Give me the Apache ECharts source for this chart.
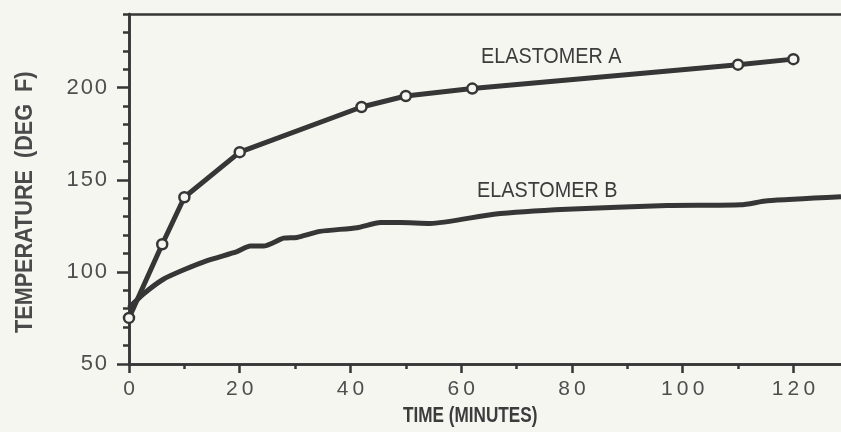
<!DOCTYPE html>
<html>
<head>
<meta charset="utf-8">
<script src="https://cdn.jsdelivr.net/npm/echarts@6/dist/echarts.min.js"></script>
<style>
html,body{margin:0;padding:0;background:#f6f6f1;}
#c{width:841px;height:432px;}
</style>
</head>
<body>
<div id="c"></div>
<script>
// Elastomer A (marked points)
var timeA = [0, 6, 10, 20, 42, 50, 62, 110, 120];
var tempA = [75, 115, 140.5, 165, 189.5, 195.5, 199.5, 212.5, 215.5];
// Elastomer B (continuous trace)
var timeB = [0, 2.6, 6.2, 9.8, 14, 19.5, 21.9, 24.3, 27.9, 30.3, 34.5, 41.2, 45.4, 49, 54.4, 65.9, 79.1, 97.2, 110.5, 115.3, 128.6];
var tempB = [80.5, 88, 96, 101, 106, 111, 114, 114, 118.3, 118.7, 122, 124, 126.8, 126.8, 126.3, 131.3, 134, 136, 136.4, 138.6, 140.8];
// Axis ticks
var xTicks = [0, 20, 40, 60, 80, 100, 120];
var xMinor = [10, 30, 50, 70, 90, 110];
var yTicks = [50, 100, 150, 200];
var yMinor = [60, 70, 80, 90, 110, 120, 130, 140, 160, 170, 180, 190, 210, 220, 230, 240];
var seriesNames = ['ELASTOMER A', 'ELASTOMER B'];
var xTitle = 'TIME (MINUTES)';
var yTitle = 'TEMPERATURE  (DEG  F)';

var ink = '#363636';
var labelGray = '#4e4e4e';
var XMAX = 128.6, YMIN = 50, YMAX = 240;

function pairs(xs, ys){ return xs.map(function(x,i){ return [x, ys[i]]; }); }
function spaced(v){ return String(v).split('').join('\u2009'); }

var chart = echarts.init(document.getElementById('c'), null, {renderer:'canvas'});
chart.setOption({
  backgroundColor: '#f6f6f1',
  animation: false,
  grid: {left: 129, right: 0, top: 14, bottom: 68},
  xAxis: [
    {type:'value', min:0, max:XMAX, position:'bottom',
     axisLine:{show:true, lineStyle:{color:ink, width:2.5}},
     axisTick:{show:true, inside:false, length:5, customValues:xMinor, lineStyle:{color:ink, width:2.5}},
     axisLabel:{show:false}, splitLine:{show:false}},
    {type:'value', min:0, max:XMAX, position:'bottom',
     axisLine:{show:true, lineStyle:{color:ink, width:2.5}},
     axisTick:{show:true, inside:false, length:9, customValues:xTicks, lineStyle:{color:ink, width:2.5}},
     axisLabel:{show:true, customValues:xTicks, margin:15, color:labelGray,
       fontFamily:'Liberation Sans, Arial, sans-serif', fontSize:21,
       formatter:function(v){ return spaced(v); }},
     splitLine:{show:false}},
    {type:'value', min:0, max:XMAX, position:'top',
     axisLine:{show:true, lineStyle:{color:ink, width:2.5}},
     axisTick:{show:false}, axisLabel:{show:false}, splitLine:{show:false}}
  ],
  yAxis: [
    {type:'value', min:YMIN, max:YMAX, position:'left',
     axisLine:{show:true, lineStyle:{color:ink, width:2.5}},
     axisTick:{show:true, inside:false, length:6, customValues:yMinor, lineStyle:{color:ink, width:2.5}},
     axisLabel:{show:false}, splitLine:{show:false}},
    {type:'value', min:YMIN, max:YMAX, position:'left',
     axisLine:{show:true, lineStyle:{color:ink, width:2.5}},
     axisTick:{show:true, inside:false, length:12, customValues:yTicks, lineStyle:{color:ink, width:2.5}},
     axisLabel:{show:true, customValues:yTicks, margin:22, color:labelGray,
       fontFamily:'Liberation Sans, Arial, sans-serif', fontSize:22,
       formatter:function(v){ return String(v).split('').join('\u200A'); }},
     splitLine:{show:false}}
  ],
  series: [
    {name:seriesNames[0], type:'line', xAxisIndex:0, yAxisIndex:0,
     data: pairs(timeA, tempA),
     lineStyle:{color:ink, width:5},
     symbol:'circle', symbolSize:10,
     itemStyle:{color:'#f6f6f1', borderColor:ink, borderWidth:2.5},
     z:3},
    {name:seriesNames[1], type:'line', xAxisIndex:0, yAxisIndex:0,
     data: pairs(timeB, tempB),
     lineStyle:{color:ink, width:5}, symbol:'none', smooth:0.2, z:2}
  ],
  graphic: [
    {type:'text', x:481, y:57, scaleX:0.9, style:{text:seriesNames[0], fill:'#3c3c3c',
      textVerticalAlign:'middle',
      font:'22px "Liberation Sans", Arial, sans-serif'}},
    {type:'text', x:477, y:190.5, scaleX:0.9, style:{text:seriesNames[1], fill:'#3c3c3c',
      textVerticalAlign:'middle',
      font:'22px "Liberation Sans", Arial, sans-serif'}},
    {type:'text', x:403, y:416, scaleX:0.78, style:{text:xTitle, fill:'#3c3c3c',
      textVerticalAlign:'middle',
      font:'bold 22px "Liberation Sans", Arial, sans-serif'}},
    {type:'text', x:26, y:333, rotation:Math.PI/2, scaleX:0.94, style:{text:yTitle, fill:'#4a4a4a',
      textVerticalAlign:'middle',
      font:'bold 23px "Liberation Sans", Arial, sans-serif'}}
  ]
});
</script>
</body>
</html>
